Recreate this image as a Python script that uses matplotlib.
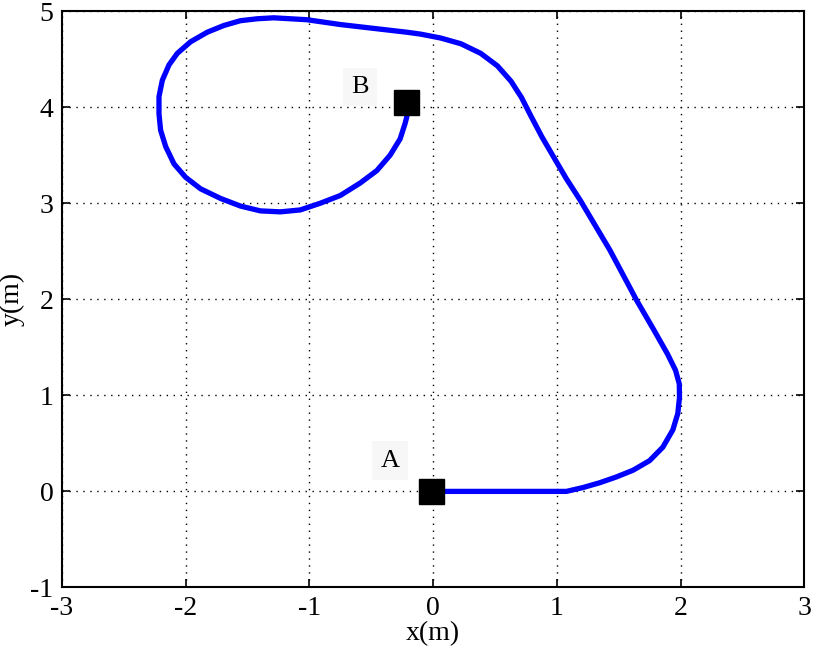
import numpy as np
import matplotlib.pyplot as plt

plt.rcParams['font.family'] = ['Liberation Serif', 'DejaVu Serif']
plt.rcParams['axes.unicode_minus'] = False

# trajectory (m), from A to B
path_x = [0.000, 1.078, 1.212, 1.347, 1.481, 1.616, 1.750, 1.857, 1.938, 1.978,
          1.992, 1.990, 1.960, 1.895, 1.785, 1.645, 1.430, 1.190, 1.075, 0.975,
          0.880, 0.790, 0.715, 0.630, 0.520, 0.385, 0.225, 0.060, -0.100, -0.212,
          -0.481, -0.750, -1.019, -1.153, -1.288, -1.422, -1.556, -1.691, -1.825,
          -1.960, -2.067, -2.134, -2.188, -2.215, -2.215, -2.202, -2.161, -2.094,
          -2.000, -1.879, -1.718, -1.556, -1.395, -1.234, -1.073, -0.911, -0.750,
          -0.589, -0.454, -0.347, -0.266, -0.226, -0.212, -0.220]
path_y = [0.00, 0.00, 0.04, 0.09, 0.15, 0.22, 0.32, 0.46, 0.64, 0.81,
          0.98, 1.12, 1.26, 1.43, 1.68, 1.99, 2.51, 3.03, 3.26, 3.48,
          3.69, 3.91, 4.10, 4.27, 4.43, 4.56, 4.66, 4.72, 4.76, 4.78,
          4.82, 4.86, 4.91, 4.92, 4.93, 4.92, 4.90, 4.85, 4.78,
          4.68, 4.56, 4.44, 4.28, 4.11, 3.93, 3.76, 3.59, 3.41,
          3.27, 3.15, 3.05, 2.97, 2.92, 2.91, 2.93, 3.00, 3.08,
          3.21, 3.34, 3.50, 3.67, 3.83, 3.90, 4.05]

pts_name = ['A', 'B']
pts_x = [-0.02, -0.22]
pts_y = [0.0, 4.05]
lbl_x = [-0.35, -0.59]
lbl_y = [0.32, 4.21]

fig = plt.figure(figsize=(8.14, 6.52), dpi=100)
ax = fig.add_axes([0.076, 0.099, 0.912, 0.884])

ax.plot(path_x, path_y, color='#0000ff', linewidth=3.8, solid_capstyle='round',
        solid_joinstyle='round', zorder=3)
ax.plot(pts_x, pts_y, 's', color='black', markersize=18, zorder=4)
for n, x, y in zip(pts_name, lbl_x, lbl_y):
    ax.text(x, y, n, fontsize=19, ha='center', va='center',
            bbox=dict(facecolor='#f7f7f7', edgecolor='none', pad=6), zorder=2)

ax.set_xlim(-3, 3)
ax.set_ylim(-1, 5)
ax.set_xticks(np.arange(-3, 4, 1))
ax.set_yticks(np.arange(-1, 6, 1))
ax.grid(True, color='black', linestyle=(0, (1, 4)), linewidth=1.0)
ax.tick_params(direction='in', top=True, right=True, length=6, width=1.2,
               labelsize=20, pad=6)
for s in ax.spines.values():
    s.set_linewidth(1.5)

ax.set_xlabel('x(m)', fontsize=20, labelpad=0)
ax.set_ylabel('y(m)', fontsize=20, labelpad=4)

fig.savefig('out.png', dpi=100)
